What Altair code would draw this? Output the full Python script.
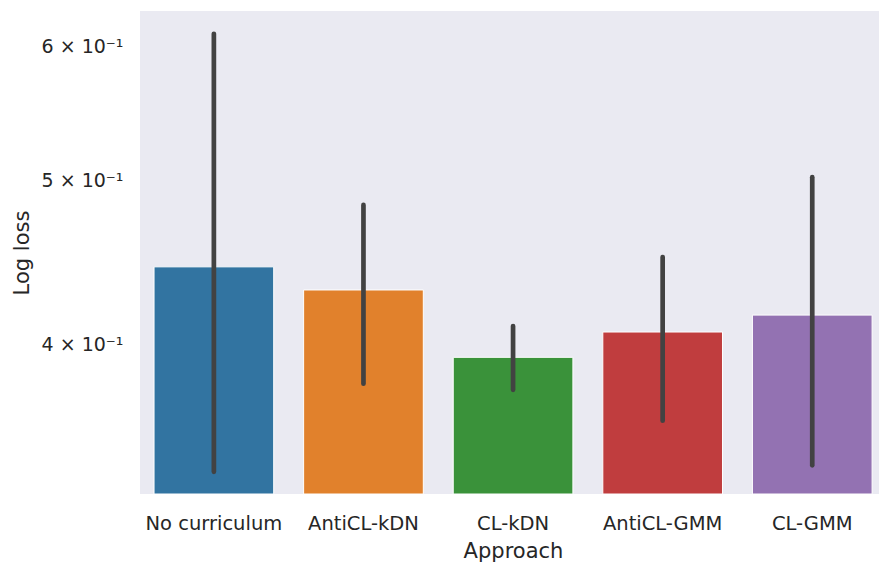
import altair as alt
import pandas as pd

# Mean log loss per curriculum approach, with the 95% confidence interval
APPROACHES = ["No curriculum", "AntiCL-kDN", "CL-kDN", "AntiCL-GMM", "CL-GMM"]
MEAN_LOSS = [0.4444, 0.4306, 0.3928, 0.4066, 0.4161]
CI_LOW = [0.3360, 0.3789, 0.3758, 0.3603, 0.3390]
CI_HIGH = [0.6107, 0.4836, 0.4099, 0.4504, 0.5022]
COLORS = ["#3274A1", "#E1812C", "#3A923A", "#C03D3E", "#9372B2"]

Y_DOMAIN = [0.326, 0.63]
Y_TICKS = [0.4, 0.5, 0.6]

df = pd.DataFrame({
    "Approach": APPROACHES,
    "loss": MEAN_LOSS,
    "lo": CI_LOW,
    "hi": CI_HIGH,
})

FONT = "DejaVu Sans"
TEXT = "#262626"

x_enc = alt.X(
    "Approach:N",
    sort=APPROACHES,
    scale=alt.Scale(paddingInner=0.2, paddingOuter=0.07, align=0.67),
    axis=alt.Axis(
        title="Approach",
        labelAngle=0,
        labelFontSize=19.5,
        titleFontSize=21,
        titleFontWeight="normal",
        labelPadding=20,
        titlePadding=8,
        titleX=373,
        ticks=False,
        tickSize=0,
        domain=False,
        grid=False,
    ),
)

y_scale = alt.Scale(type="log", domain=Y_DOMAIN, nice=False, clamp=True)

bars = alt.Chart(df).mark_bar(stroke="white", strokeWidth=1).encode(
    x=x_enc,
    y=alt.Y(
        "loss:Q",
        scale=y_scale,
        axis=alt.Axis(
            title="Log loss",
            values=Y_TICKS,
            labelExpr="round(datum.value * 10) + ' × 10⁻¹'",
            labelFontSize=19,
            titleFontSize=21,
            titleFontWeight="normal",
            labelPadding=17,
            titlePadding=9,
            ticks=False,
            tickSize=0,
            domain=False,
            grid=False,
        ),
    ),
    color=alt.Color(
        "Approach:N",
        sort=APPROACHES,
        scale=alt.Scale(domain=APPROACHES, range=COLORS),
        legend=None,
    ),
)

errbars = alt.Chart(df).mark_rule(
    color="#424242", strokeWidth=4.7, strokeCap="round"
).encode(
    x=alt.X("Approach:N", sort=APPROACHES),
    y=alt.Y("lo:Q", scale=y_scale),
    y2="hi:Q",
)

chart = (
    alt.layer(bars, errbars)
    .properties(
        width=739,
        height=483,
        autosize="none",
        padding={"left": 140, "top": 11, "right": 0, "bottom": 68},
        background="white",
    )
    .configure_view(fill="#EAEAF2", stroke=None)
    .configure_axis(
        labelFont=FONT,
        titleFont=FONT,
        labelColor=TEXT,
        titleColor=TEXT,
    )
)

chart.save("out.html", embed_options={"renderer": "svg", "actions": False})
